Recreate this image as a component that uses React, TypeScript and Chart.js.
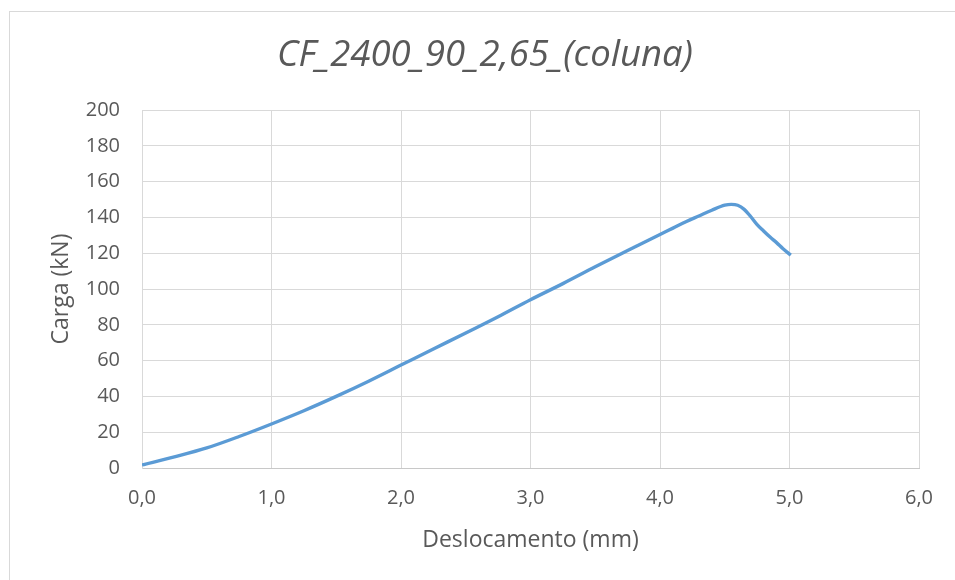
import React, { useEffect, useRef } from "react";
import { Chart, registerables } from "chart.js";

Chart.register(...registerables);

const titleText = "CF_2400_90_2,65_(coluna)";
const xLabel = "Deslocamento (mm)";
const yLabel = "Carga (kN)";

const displacement = [
  0, 0.25, 0.5, 0.75, 1.0, 1.25, 1.5, 1.75, 2.0, 2.25, 2.5, 2.75, 3.0, 3.25,
  3.5, 3.75, 4.0, 4.1, 4.2, 4.3, 4.4, 4.5, 4.55, 4.6, 4.65, 4.7, 4.75, 4.8,
  4.85, 4.9, 4.95, 5.0, 5.01,
];
const load = [
  1.7, 6.2, 11.2, 17.6, 24.6, 32, 40, 48.5, 57.5, 66.5, 75.4, 84.5, 94, 103,
  112.4, 121.5, 130.5, 134, 137.6, 140.8, 144, 146.8, 147.3, 146.8, 144.5,
  140.5, 136, 132.4, 129, 125.9, 122.5, 119.5, 118.9,
];

const xMin = 0;
const xMax = 6;
const xStep = 1;
const yMin = 0;
const yMax = 200;
const yStep = 20;

const FONT = "'Open Sans', 'DejaVu Sans', sans-serif";
const TEXT = "#595959";
const GRID = "#d9d9d9";

const decorPlugin = {
  id: "decor",
  beforeDraw(chart: any) {
    const ctx = chart.ctx;
    ctx.save();
    ctx.fillStyle = "#ffffff";
    ctx.fillRect(0, 0, chart.width, chart.height);
    ctx.strokeStyle = "#d9d9d9";
    ctx.lineWidth = 1;
    ctx.strokeRect(9.5, 11.5, 2000, 2000);
    ctx.restore();
  },
  afterDraw(chart: any) {
    const ctx = chart.ctx;
    ctx.save();
    ctx.fillStyle = TEXT;
    ctx.font = `italic 36.5px ${FONT}`;
    ctx.textAlign = "center";
    ctx.textBaseline = "middle";
    ctx.fillText(titleText, 485, 56);
    ctx.restore();
  },
};

export default function App() {
  const ref = useRef<HTMLCanvasElement | null>(null);

  useEffect(() => {
    if (!ref.current) return;
    const points = displacement.map((x, i) => ({ x, y: load[i] }));
    const chart = new Chart(ref.current, {
      type: "scatter",
      data: {
        datasets: [
          {
            data: points,
            showLine: true,
            borderColor: "#5B9BD5",
            backgroundColor: "#5B9BD5",
            borderWidth: 3.4,
            pointRadius: 0,
            cubicInterpolationMode: "monotone",
          } as any,
        ],
      },
      options: {
        responsive: false,
        animation: false,
        layout: { padding: { left: 0, right: 36, top: 110, bottom: 0 } },
        plugins: {
          legend: { display: false },
          tooltip: { enabled: false },
          title: { display: false },
        },
        scales: {
          x: {
            type: "linear",
            min: xMin,
            max: xMax,
            border: { color: "#c8c8c8", width: 1 },
            grid: { color: GRID, lineWidth: 1, drawTicks: false },
            ticks: {
              stepSize: xStep,
              padding: 18,
              color: TEXT,
              font: { family: FONT, size: 20 },
              callback: (v: any) => Number(v).toFixed(1).replace(".", ","),
            },
            title: {
              display: true,
              text: xLabel,
              color: TEXT,
              font: { family: FONT, size: 23 },
              padding: 26,
            },
            afterFit: (s: any) => {
              s.height = 112;
            },
          },
          y: {
            type: "linear",
            min: yMin,
            max: yMax,
            border: { color: GRID, width: 1 },
            grid: { color: GRID, lineWidth: 1, drawTicks: false },
            ticks: {
              stepSize: yStep,
              padding: 22,
              color: TEXT,
              font: { family: FONT, size: 20 },
            },
            title: {
              display: true,
              text: yLabel,
              color: TEXT,
              font: { family: FONT, size: 23 },
              padding: 48,
            },
            afterFit: (s: any) => {
              s.width = 142;
            },
          },
        },
      },
      plugins: [decorPlugin],
    });
    return () => chart.destroy();
  }, []);

  return (
    <div style={{ position: "fixed", left: 0, top: 0, width: 955, height: 580, background: "#fff" }}>
      <canvas ref={ref} width={955} height={580} />
    </div>
  );
}
